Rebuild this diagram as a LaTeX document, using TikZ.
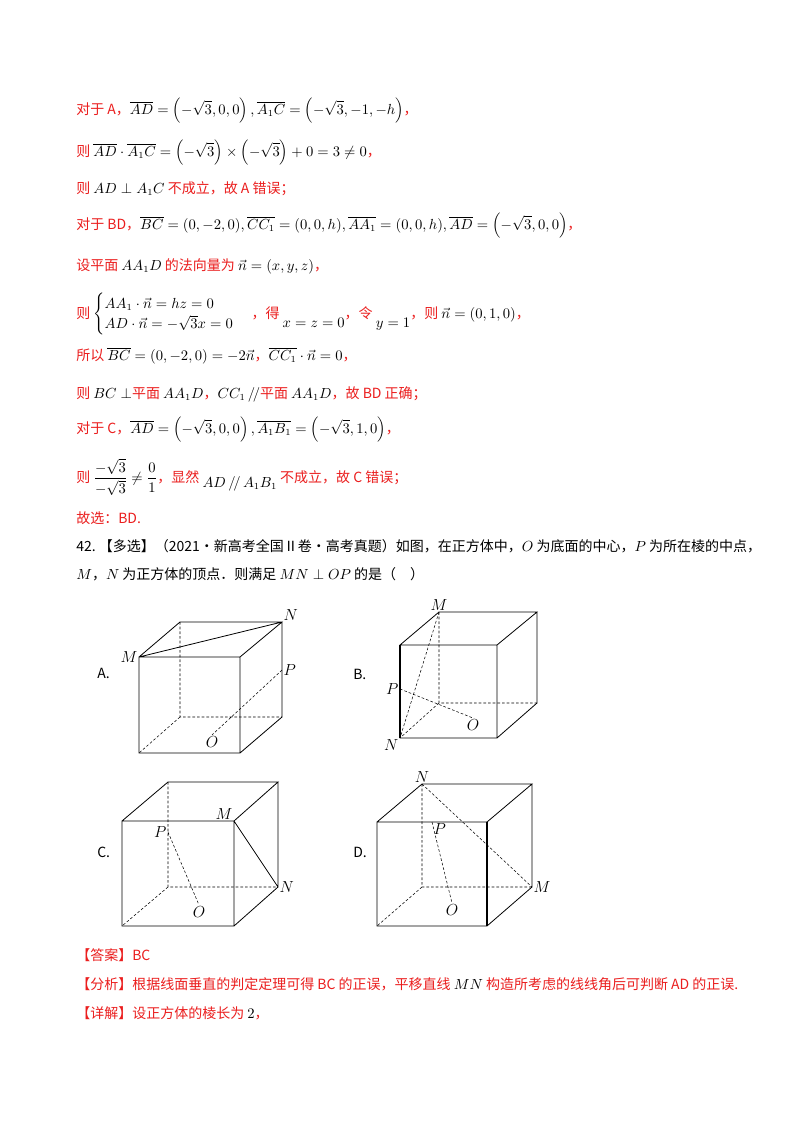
\documentclass[tikz,border=0pt]{standalone}
\usepackage{amsmath,amssymb}
\usepackage{fontspec}
\setmainfont{Noto Sans CJK SC}
\definecolor{rd}{RGB}{235,30,30}
\newcommand{\vv}[1]{\overline{#1}}
\begin{document}
\begin{tikzpicture}[x=0.75pt,y=-0.75pt,
  tx/.style={anchor=base west,inner sep=0pt,font=\fontsize{10.5}{13}\selectfont,text=rd},
  lb/.style={inner sep=1pt,font=\fontsize{11.5}{12}\selectfont\itshape},
  hid/.style={dashed,dash pattern=on 2pt off 1.5pt,thin},
  ed/.style={line width=0.6pt}]
\useasboundingbox[fill=white] (0,0) rectangle (800,1132);
\newcommand{\bk}[1]{\textcolor{black}{$#1$}}
\node[tx] (l1) at (76,114) {对于 A，\bk{\vv{AD}=\left(-\sqrt3,0,0\right),\vv{A_1C}=\left(-\sqrt3,-1,-h\right)}，};
\node[tx] (l2) at (76,156) {则 \bk{\vv{AD}\cdot\vv{A_1C}=\left(-\sqrt3\right)\times\left(-\sqrt3\right)+0=3\neq0}，};
\node[tx] (l3) at (76,193) {则 \bk{AD\perp A_1C} 不成立，故 A 错误；};
\node[tx] (l4) at (76,229) {对于 BD，\bk{\vv{BC}=(0,-2,0),\vv{CC_1}=(0,0,h),\vv{AA_1}=(0,0,h),\vv{AD}=\left(-\sqrt3,0,0\right)}，};
\node[tx] (l5) at (76,270) {设平面 \bk{AA_1D} 的法向量为 \bk{\vec n=(x,y,z)}，};
\node[tx] (l6) at (76,318) {则 \bk{\begin{cases}AA_1\cdot\vec n=hz=0\\ AD\cdot\vec n=-\sqrt3x=0\end{cases}}\ ，得 \raisebox{-7pt}{\bk{x=z=0}}，令 \raisebox{-7pt}{\bk{y=1}}，则 \bk{\vec n=(0,1,0)}，};
\node[tx] (l7) at (76,360) {所以 \bk{\vv{BC}=(0,-2,0)=-2\vec n}，\bk{\vv{CC_1}\cdot\vec n=0}，};
\node[tx] (l8) at (76,398) {则 \bk{BC\perp}平面 \bk{AA_1D}，\bk{CC_1\,/\!/}平面 \bk{AA_1D}，故 BD 正确；};
\node[tx] (l9) at (76,433) {对于 C，\bk{\vv{AD}=\left(-\sqrt3,0,0\right),\vv{A_1B_1}=\left(-\sqrt3,1,0\right)}，};
\node[tx] (l10) at (76,482) {则 \bk{\dfrac{-\sqrt3}{-\sqrt3}\neq\dfrac01}，显然 \raisebox{-4pt}{\bk{AD\,/\!/\,A_1B_1}} 不成立，故 C 错误；};
\node[tx] (l11) at (76,523) {故选：BD.};
\node[tx,text=black] (q1) at (76,551) {42.\ 【多选】（2021·新高考全国Ⅱ卷·高考真题）如图，在正方体中，$O$ 为底面的中心，$P$ 为所在棱的中点，};
\node[tx,text=black] (q2) at (76,579) {$M$，$N$ 为正方体的顶点．则满足 $MN\perp OP$ 的是（\quad）};
\node[tx] (a1) at (76,960) {【答案】BC};
\node[tx] (a2) at (76,989) {【分析】根据线面垂直的判定定理可得 BC 的正误，平移直线 \bk{MN} 构造所考虑的线线角后可判断 AD 的正误.};
\node[tx] (a3) at (76,1018) {【详解】设正方体的棱长为 \bk{2}，};
\node[tx,text=black] (LA) at (97,678) {A.};
\node[tx,text=black] (LB) at (353,679) {B.};
\node[tx,text=black] (LC) at (97,857) {C.};
\node[tx,text=black] (LD) at (353,857) {D.};
% Cube A
\coordinate (aM) at (139,657); \coordinate (a2) at (240,657); \coordinate (a3) at (139,753); \coordinate (a4) at (240,753);
\coordinate (a5) at (180,622); \coordinate (aN) at (282,622); \coordinate (a7) at (180,717); \coordinate (a8) at (282,717);
\coordinate (aP) at (282,670); \coordinate (aO) at (212,735);
\draw[ed] (aM)--(a2)--(a4)--(a3)--cycle (aM)--(a5)--(aN)--(a2) (aN)--(a8)--(a4) (aM)--(aN);
\draw[hid] (a5)--(a7)--(a8) (a7)--(a3) (aP)--(aO);
\node[lb,anchor=east] (tM) at (aM) {$M$};
\node[lb,anchor=south west] (tN) at (aN) {$N$};
\node[lb,anchor=west] (tP) at (aP) {$P$};
\node[lb,anchor=north] (tO) at (aO) {$O$};
% Cube B
\coordinate (b1) at (400,645); \coordinate (b2) at (497,645); \coordinate (bN) at (400,738); \coordinate (b4) at (497,738);
\coordinate (bM) at (439,612); \coordinate (b6) at (537,612); \coordinate (b7) at (439,703); \coordinate (b8) at (537,703);
\coordinate (bP) at (400,689); \coordinate (bO) at (473,718);
\draw[ed] (b1)--(b2)--(b4)--(bN)--cycle (b1)--(bM)--(b6)--(b2) (b6)--(b8)--(b4);
\draw[line width=1pt] (b1)--(bN);
\draw[hid] (bM)--(b7)--(b8) (b7)--(bN) (bM)--(bN) (bP)--(bO);
\node[lb,anchor=south] (tbM) at (bM) {$M$};
\node[lb,anchor=north east] (tbN) at (bN) {$N$};
\node[lb,anchor=east] (tbP) at (bP) {$P$};
\node[lb,anchor=north] (tbO) at (bO) {$O$};
% Cube C
\coordinate (c1) at (122,821); \coordinate (cM) at (234,821); \coordinate (c3) at (122,926); \coordinate (c4) at (234,926);
\coordinate (c5) at (168,782); \coordinate (c6) at (278,782); \coordinate (c7) at (168,887); \coordinate (cN) at (278,887);
\coordinate (cP) at (168,832); \coordinate (cO) at (199,905);
\draw[ed] (c1)--(cM)--(c4)--(c3)--cycle (c1)--(c5)--(c6)--(cM) (c6)--(cN)--(c4) (cM)--(cN);
\draw[hid] (c5)--(c7)--(cN) (c7)--(c3) (cP)--(cO);
\node[lb,anchor=south east] (tcM) at (cM) {$M$};
\node[lb,anchor=west] (tcN) at (cN) {$N$};
\node[lb,anchor=east] (tcP) at (cP) {$P$};
\node[lb,anchor=north] (tcO) at (cO) {$O$};
% Cube D
\coordinate (d1) at (377,822); \coordinate (d2) at (487,822); \coordinate (d3) at (377,926); \coordinate (d4) at (487,926);
\coordinate (dN) at (422,784); \coordinate (d6) at (532,784); \coordinate (d7) at (422,887); \coordinate (dM) at (532,887);
\coordinate (dP) at (432,822); \coordinate (dO) at (452,903);
\draw[ed] (d1)--(d2)--(d4)--(d3)--cycle (d1)--(dN)--(d6)--(d2) (d6)--(dM)--(d4);
\draw[line width=1pt] (d2)--(d4);
\draw[hid] (dN)--(d7)--(dM) (d7)--(d3) (dN)--(dM) (dP)--(dO);
\node[lb,anchor=south] (tdN) at (dN) {$N$};
\node[lb,anchor=north west] (tdP) at (dP) {$P$};
\node[lb,anchor=north] (tdO) at (dO) {$O$};
\node[lb,anchor=west] (tdM) at (dM) {$M$};
\end{tikzpicture}
\end{document}
